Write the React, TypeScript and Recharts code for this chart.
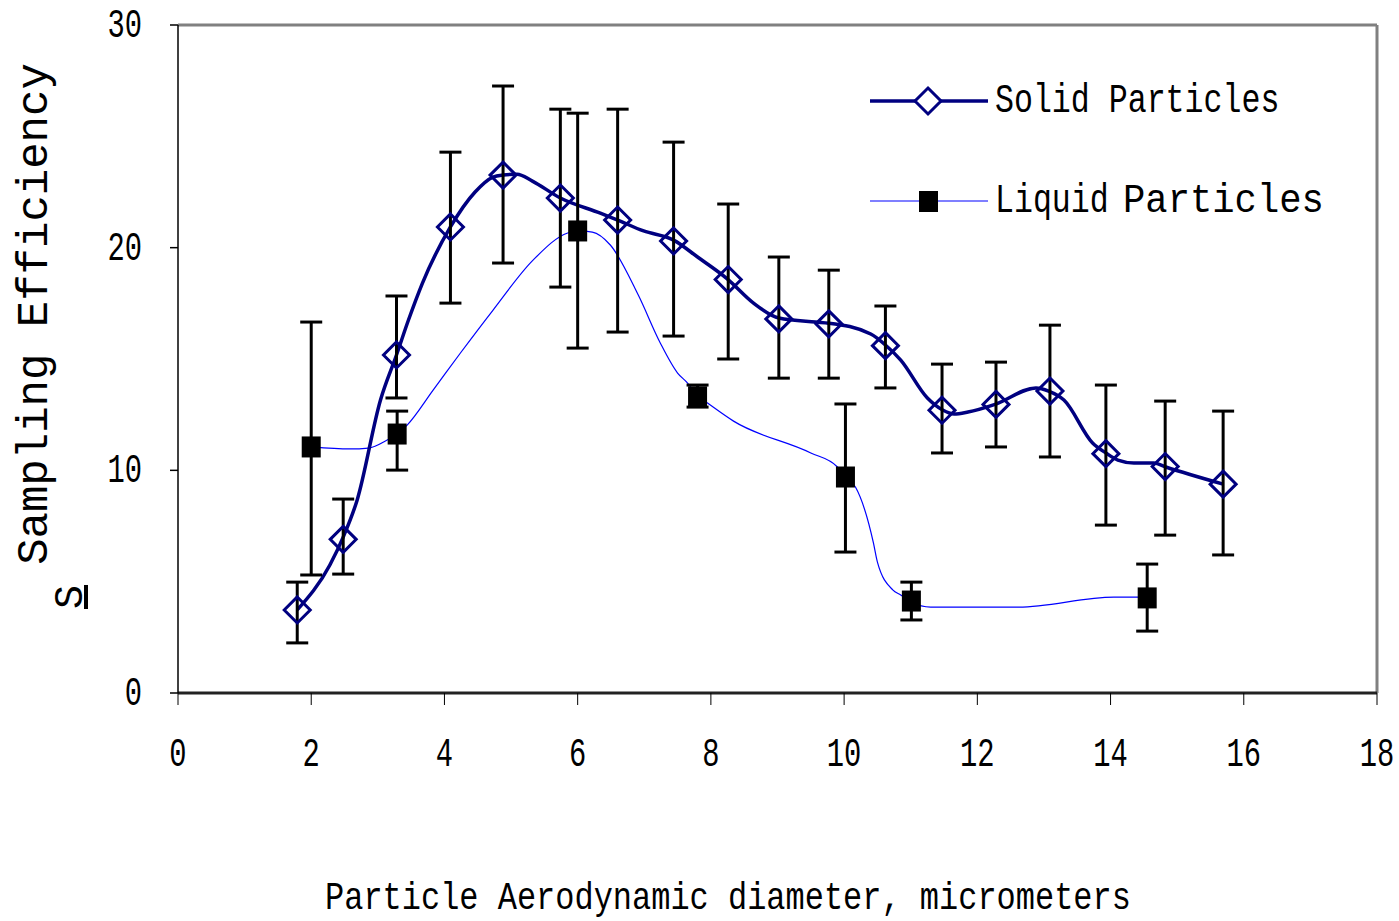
import React from "react"
import { ComposedChart, Line, Scatter, ErrorBar, XAxis, YAxis, ReferenceLine } from "recharts"

// marker points (x, value, top of bar, bottom of bar)
const solidX = [1.79, 2.48, 3.28, 4.09, 4.88, 5.74, 6.6, 7.44, 8.26, 9.02, 9.77, 10.62, 11.47, 12.28, 13.09, 13.93, 14.82, 15.69]
const solidY = [3.73, 6.9, 15.18, 20.93, 23.26, 22.23, 21.24, 20.3, 18.57, 16.8, 16.58, 15.6, 12.7, 12.96, 13.56, 10.75, 10.17, 9.38]
const solidHi = [4.98, 8.71, 17.83, 24.29, 27.26, 26.22, 26.22, 24.74, 21.96, 19.58, 18.99, 17.38, 14.77, 14.86, 16.52, 13.83, 13.11, 12.66]
const solidLo = [2.25, 5.34, 13.25, 17.51, 19.31, 18.23, 16.21, 16.03, 15.0, 14.14, 14.14, 13.7, 10.78, 11.05, 10.6, 7.54, 7.09, 6.2]

const liquidX = [2.0, 3.29, 6.0, 7.8, 10.02, 11.01, 14.55]
const liquidY = [11.05, 11.63, 20.75, 13.3, 9.7, 4.13, 4.27]
const liquidHi = [16.66, 12.66, 26.04, 13.83, 12.98, 4.98, 5.79]
const liquidLo = [5.3, 10.01, 15.49, 12.84, 6.33, 3.28, 2.78]

// smoothed curves
const solidCurveX = [1.79, 2.28, 2.48, 2.69, 3.04, 3.28, 3.46, 3.67, 4.09, 4.46, 4.73, 4.88, 5.09, 5.32, 5.74, 6.34, 6.6, 6.99, 7.44, 7.8, 8.25, 8.64, 9.02, 9.57, 9.77, 10.4, 10.62, 10.85, 11.25, 11.48, 11.65, 11.86, 12.28, 12.88, 13.07, 13.3, 13.73, 13.93, 14.11, 14.35, 14.65, 14.83, 15.69]
const solidCurveY = [3.73, 5.75, 7.0, 8.67, 13.16, 15.18, 16.75, 18.41, 20.93, 22.5, 23.17, 23.26, 23.3, 22.99, 22.23, 21.55, 21.24, 20.75, 20.34, 19.58, 18.59, 17.51, 16.84, 16.66, 16.61, 16.12, 15.63, 14.95, 13.25, 12.71, 12.53, 12.62, 12.98, 13.7, 13.56, 13.16, 11.23, 10.78, 10.46, 10.33, 10.33, 10.15, 9.38]

const liquidCurveX = [2.01, 2.58, 2.86, 3.14, 3.29, 3.44, 3.83, 4.24, 4.73, 5.33, 5.85, 6.01, 6.22, 6.49, 6.91, 7.24, 7.5, 7.65, 7.8, 7.95, 8.34, 9.5, 9.9, 10.02, 10.17, 10.44, 10.5, 10.73, 10.85, 11.01, 11.3, 12.62, 14.05, 14.53]
const liquidCurveY = [11.05, 10.96, 11.0, 11.36, 11.63, 12.03, 13.6, 15.27, 17.2, 19.44, 20.66, 20.75, 20.7, 20.12, 17.87, 15.72, 14.37, 13.92, 13.34, 13.02, 12.21, 10.78, 10.15, 9.7, 9.25, 6.74, 5.88, 4.63, 4.4, 4.09, 3.86, 3.86, 4.31, 4.31]

const xTicks = [0, 2, 4, 6, 8, 10, 12, 14, 16, 18]
const yTicks = [0, 10, 20, 30]

const solidPts = solidX.map((x, i) => ({ x, y: solidY[i], err: [solidY[i] - solidLo[i], solidHi[i] - solidY[i]] }))
const liquidPts = liquidX.map((x, i) => ({ x, y: liquidY[i], err: [liquidY[i] - liquidLo[i], liquidHi[i] - liquidY[i]] }))
const solidCurve = solidCurveX.map((x, i) => ({ x, y: solidCurveY[i] }))
const liquidCurve = liquidCurveX.map((x, i) => ({ x, y: liquidCurveY[i] }))

const NAVY = "#000080"
const FONT = "'Liberation Mono', 'Courier New', monospace"

const Diamond = (props: any) => {
  const { cx, cy } = props
  const r = 13
  return <path d={`M${cx},${cy - r}L${cx + r},${cy}L${cx},${cy + r}L${cx - r},${cy}Z`} fill="none" stroke={NAVY} strokeWidth={3} />
}

const Square = (props: any) => {
  const { cx, cy } = props
  return <rect x={cx - 9.5} y={cy - 10.5} width={19} height={21} fill="#000" />
}

const XTick = ({ x, y, payload }: any) => (
  <text transform={`translate(${x},${y + 61}) scale(0.72,1)`} textAnchor="middle" fontFamily={FONT} fontSize={40} fill="#000">
    {payload.value}
  </text>
)

const YTick = ({ x, y, payload }: any) => (
  <text transform={`translate(${x - 28},${y + 12}) scale(0.72,1)`} textAnchor="end" fontFamily={FONT} fontSize={40} fill="#000">
    {payload.value}
  </text>
)

export default function App() {
  return (
    <div style={{ position: "absolute", left: 0, top: 0, width: 1399, height: 921, background: "#fff" }}>
      <ComposedChart width={1399} height={921} margin={{ top: 25, right: 22, left: 98, bottom: 148 }}>
        <XAxis
          dataKey="x"
          type="number"
          domain={[0, 18]}
          ticks={xTicks}
          tickSize={12}
          tickMargin={0}
          height={80}
          tick={<XTick />}
          axisLine={{ stroke: "#222", strokeWidth: 3 }}
          tickLine={{ stroke: "#000", strokeWidth: 1 }}
        />
        <YAxis
          type="number"
          domain={[0, 30]}
          ticks={yTicks}
          tickSize={8}
          tickMargin={0}
          width={80}
          tick={<YTick />}
          axisLine={{ stroke: "#000", strokeWidth: 1.5 }}
          tickLine={{ stroke: "#000", strokeWidth: 1.5 }}
        />
        <ReferenceLine y={30} stroke="#808080" strokeWidth={3} />
        <ReferenceLine x={18} stroke="#808080" strokeWidth={3} />
        <Line data={liquidCurve} dataKey="y" type="monotone" stroke="#0000FF" strokeWidth={1.2} dot={false} isAnimationActive={false} />
        <Line data={solidCurve} dataKey="y" type="monotone" stroke={NAVY} strokeWidth={3.5} dot={false} isAnimationActive={false} />
        <Scatter data={solidPts} dataKey="y" shape={Diamond} isAnimationActive={false}>
          <ErrorBar dataKey="err" direction="y" width={11} stroke="#000" strokeWidth={3} />
        </Scatter>
        <Scatter data={liquidPts} dataKey="y" shape={Square} isAnimationActive={false}>
          <ErrorBar dataKey="err" direction="y" width={11} stroke="#000" strokeWidth={3} />
        </Scatter>
      </ComposedChart>
      <svg width={1399} height={921} style={{ position: "absolute", left: 0, top: 0, pointerEvents: "none" }}>
        {/* legend */}
        <line x1={870} x2={988} y1={101} y2={101} stroke={NAVY} strokeWidth={3.5} />
        <path d="M928,88L941,101L928,114L915,101Z" fill="#fff" stroke={NAVY} strokeWidth={3} />
        <text transform="translate(995,112) scale(0.79,1)" fontFamily={FONT} fontSize={40} fill="#000">Solid Particles</text>
        <line x1={870} x2={988} y1={201} y2={201} stroke="#0000FF" strokeWidth={1.2} />
        <rect x={919} y={191} width={19} height={21} fill="#000" />
        <text transform="translate(995,212) scale(0.79,1)" fontFamily={FONT} fontSize={40} fill="#000">Liquid</text>
        <text transform="translate(1123,212) scale(0.93,1)" fontFamily={FONT} fontSize={40} fill="#000">Particles</text>
        {/* axis titles */}
        <text transform="translate(728,909) scale(0.82,1)" textAnchor="middle" fontFamily={FONT} fontSize={39} fill="#000">
          Particle Aerodynamic diameter, micrometers
        </text>
        <text transform="translate(47,314) rotate(-90)" textAnchor="middle" fontFamily={FONT} fontSize={44} fill="#000">
          Sampling Efficiency
        </text>
        <text transform="translate(82,597) rotate(-90)" textAnchor="middle" fontFamily={FONT} fontSize={40} fill="#000" textDecoration="underline">
          S
        </text>
      </svg>
    </div>
  )
}
